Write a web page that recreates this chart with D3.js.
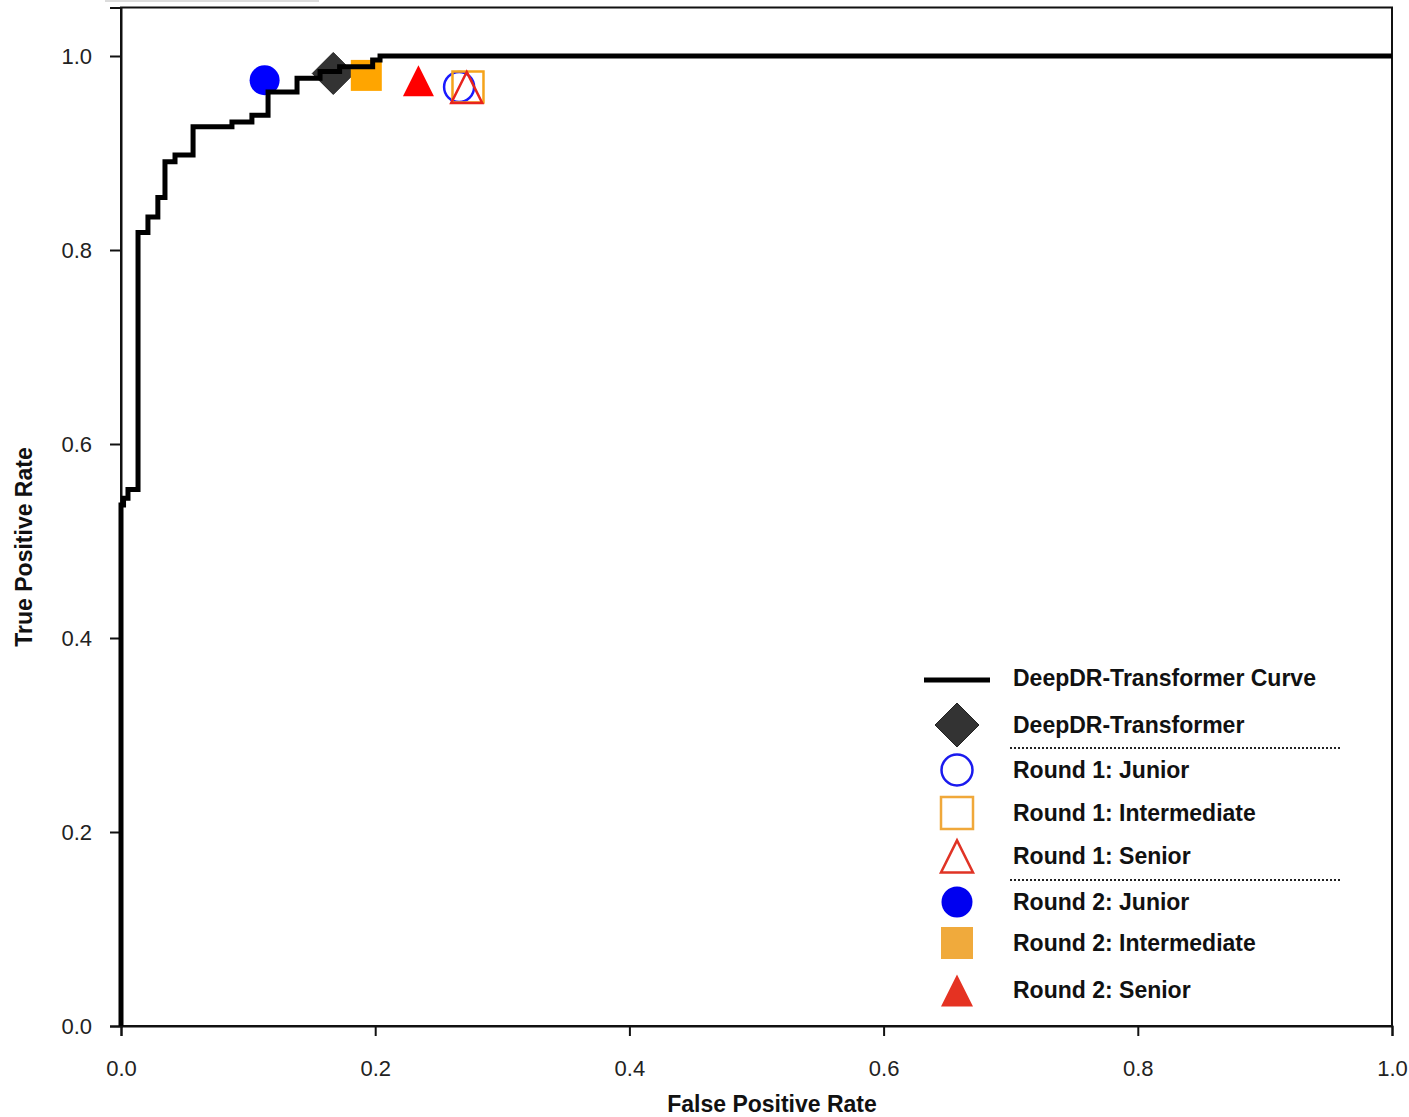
<!DOCTYPE html>
<html>
<head>
<meta charset="utf-8">
<script src="https://cdn.jsdelivr.net/npm/d3@7"></script>
<style>
  html, body { margin: 0; padding: 0; background: #fff; }
  svg { display: block; font-family: "Liberation Sans", Arial, Helvetica, sans-serif; }
</style>
</head>
<body>
<svg id="chart" width="1409" height="1117"></svg>
<script>
// ---- Data ----
const curveFPR = [0, 0, 0.002, 0.0055, 0.0134, 0.0212, 0.029, 0.0346, 0.0425, 0.0567, 0.0873, 0.103, 0.1157, 0.1385, 0.1566, 0.172, 0.198, 0.2038, 1.0];
const curveTPR = [0, 0.537, 0.544, 0.553, 0.818, 0.834, 0.854, 0.891, 0.898, 0.927, 0.932, 0.939, 0.963, 0.977, 0.984, 0.989, 0.996, 1.0, 1.0];

const markerNames = ["DeepDR-Transformer", "Round 1: Junior", "Round 1: Intermediate", "Round 1: Senior", "Round 2: Junior", "Round 2: Intermediate", "Round 2: Senior"];
const markerFPR = [0.167, 0.266, 0.273, 0.272, 0.113, 0.193, 0.234];
const markerTPR = [0.982, 0.968, 0.968, 0.966, 0.975, 0.980, 0.973];
const markerShape = ["diamond", "circle", "square", "triangle", "circle", "square", "triangle"];
const markerFilled = [true, false, false, false, true, true, true];

const xTicks = [0, 0.2, 0.4, 0.6, 0.8, 1.0];
const yTicks = [0, 0.2, 0.4, 0.6, 0.8, 1.0];
const curveLabel = "DeepDR-Transformer Curve";
const xTitle = "False Positive Rate";
const yTitle = "True Positive Rate";

// ---- Styles ----
const plotColors = ["#333333", "#1a1aff", "#f5a31a", "#e8231c", "#0000ff", "#ffa500", "#ff0000"];
const legendColors = ["#333333", "#1a1aee", "#f0a83a", "#e03325", "#0000f0", "#f0aa3c", "#e53222"];

const svg = d3.select("#chart");

// faint remnant bar at top-left
svg.append("rect").attr("x", 105).attr("y", 0).attr("width", 214).attr("height", 2).attr("fill", "#dcdcdc");

const x = d3.scaleLinear().domain([0, 1]).range([121, 1392]);
const y = d3.scaleLinear().domain([0, 1.05]).range([1026, 7.5]);

// frame
svg.append("rect")
  .attr("x", x(0)).attr("y", y(1.05))
  .attr("width", x(1) - x(0)).attr("height", y(0) - y(1.05))
  .attr("fill", "none").attr("stroke", "#111").attr("stroke-width", 2);

// axes
const xAxis = svg.append("g").attr("transform", `translate(0,${y(0)})`)
  .call(d3.axisBottom(x).tickValues(xTicks).tickFormat(d3.format(".1f")).tickSize(10).tickPadding(24));
const yAxis = svg.append("g").attr("transform", `translate(${x(0)},0)`)
  .call(d3.axisLeft(y).tickValues(yTicks).tickFormat(d3.format(".1f")).tickSize(11).tickPadding(18));
[xAxis, yAxis].forEach(a => {
  a.select(".domain").attr("stroke", "#111").attr("stroke-width", 2);
  a.selectAll(".tick line").attr("stroke", "#111").attr("stroke-width", 2);
  a.selectAll(".tick text").attr("font-size", 22).attr("fill", "#222")
   .attr("font-family", "'Liberation Sans', Arial, sans-serif");
});

// axis titles
svg.append("text").attr("x", 772).attr("y", 1112).attr("text-anchor", "middle")
  .attr("font-size", 23).attr("font-weight", "bold").attr("fill", "#111").text(xTitle);
svg.append("text").attr("transform", "translate(32,547) rotate(-90)").attr("text-anchor", "middle")
  .attr("font-size", 23).attr("font-weight", "bold").attr("fill", "#111").text(yTitle);

// marker drawing
function symbolPath(shape, size) {
  if (shape === "circle") return d3.symbol(d3.symbolCircle, Math.PI * size * size)();
  if (shape === "square") return d3.symbol(d3.symbolSquare, (2 * size) * (2 * size))();
  if (shape === "diamond") {
    return `M0,${-size}L${size},0L0,${size}L${-size},0Z`;
  }
  if (shape === "triangle") {
    const h = size * 2;
    return `M0,${-h * 0.55}L${size},${h * 0.45}L${-size},${h * 0.45}Z`;
  }
}
function drawMarker(g, shape, filled, color, cx, cy, size) {
  g.append("path")
    .attr("d", symbolPath(shape, size))
    .attr("transform", `translate(${cx},${cy})`)
    .attr("fill", filled ? color : "none")
    .attr("stroke", filled ? (shape === "diamond" ? "#222" : "none") : color)
    .attr("stroke-width", filled ? 1 : 2.5);
}

const markersG = svg.append("g");
const plotSize = { circle: 15, square: 15.5, triangle: 15.5, diamond: 21 };
const order = [4, 0, 5, 6, 1, 2, 3];
order.forEach(i => {
  drawMarker(markersG, markerShape[i], markerFilled[i], plotColors[i], x(markerFPR[i]), y(markerTPR[i]), plotSize[markerShape[i]]);
});

// ROC curve (drawn on top of markers)
const curvePts = curveFPR.map((f, i) => [f, curveTPR[i]]);
svg.append("path")
  .datum(curvePts)
  .attr("d", d3.line().x(d => x(d[0])).y(d => y(d[1])).curve(d3.curveStepAfter))
  .attr("fill", "none").attr("stroke", "#000").attr("stroke-width", 5)
  .attr("stroke-linejoin", "miter");

// legend
const lg = svg.append("g");
const legendRowsY = [678, 725, 770, 813, 856, 902, 943, 990];
const symX = 957, textX = 1013;
lg.append("line").attr("x1", 924).attr("x2", 990).attr("y1", legendRowsY[0] + 2).attr("y2", legendRowsY[0] + 2)
  .attr("stroke", "#000").attr("stroke-width", 5);
const legendSize = { circle: 15.5, square: 16, triangle: 16, diamond: 22 };
[curveLabel, ...markerNames].forEach((name, k) => {
  lg.append("text").attr("x", textX).attr("y", legendRowsY[k]).attr("dy", "0.35em")
    .attr("font-size", 23).attr("font-weight", "bold").attr("fill", "#111").text(name);
  if (k > 0) {
    const i = k - 1;
    drawMarker(lg, markerShape[i], markerFilled[i], legendColors[i], symX, legendRowsY[k] + (markerShape[i] === "triangle" ? 2 : 0), legendSize[markerShape[i]]);
  }
});
[748, 880].forEach(yy => {
  lg.append("line").attr("x1", 1010).attr("x2", 1340).attr("y1", yy).attr("y2", yy)
    .attr("stroke", "#222").attr("stroke-width", 2).attr("stroke-dasharray", "2,2");
});
</script>
</body>
</html>
